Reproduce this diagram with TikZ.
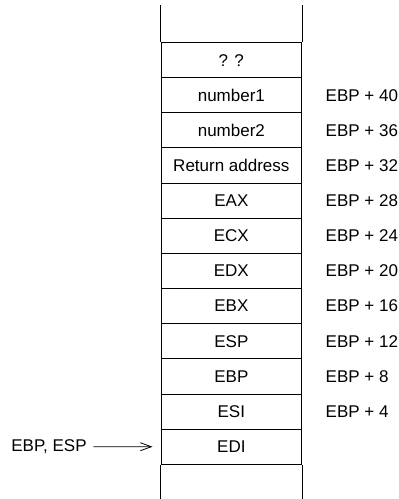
\documentclass[tikz,border=0pt]{standalone}
\usepackage{fontspec}
\setmainfont{Liberation Sans}
\usetikzlibrary{arrows.meta}

\begin{document}
\begin{tikzpicture}
  [x=1pt, y=-1pt, line width=1pt,
   every node/.style={font=\fontsize{17}{20}\selectfont},
   slot/.style={draw=black, minimum width=140.7pt, minimum height=35.15pt, inner sep=0pt},
   offset/.style={anchor=west, inner sep=0pt}]

  \useasboundingbox (0,0) rectangle (399,499);

  % the stack, top to bottom
  \foreach \txt [count=\i] in {? ?, number1, number2, Return address, EAX, ECX, EDX, EBX, ESP, EBP, ESI, EDI}
    \node[slot] (s\i) at (231.35, {42.5+35.15*(\i-0.5)}) {\txt};

  \draw (s1.north west) -- ++(0,-37.5);
  \draw (s1.north east) -- ++(0,-37.5);
  \draw (s12.south west) -- ++(0,35);
  \draw (s12.south east) -- ++(0,35);

  % offsets from EBP
  \foreach \i in {2,...,11} {
    \pgfmathtruncatemacro{\off}{48-4*\i}
    \node[offset] (o\i) at ([xshift=23pt]s\i.east) {EBP + \off};
  }

  \node (ptr) at (49, 446.7) {EBP, ESP};
  \draw[line width=0.8pt, -{Straight Barb[length=11pt, width=8pt]}, shorten <=3pt, shorten >=8pt]
    (ptr) -- (s12);
\end{tikzpicture}
\end{document}
